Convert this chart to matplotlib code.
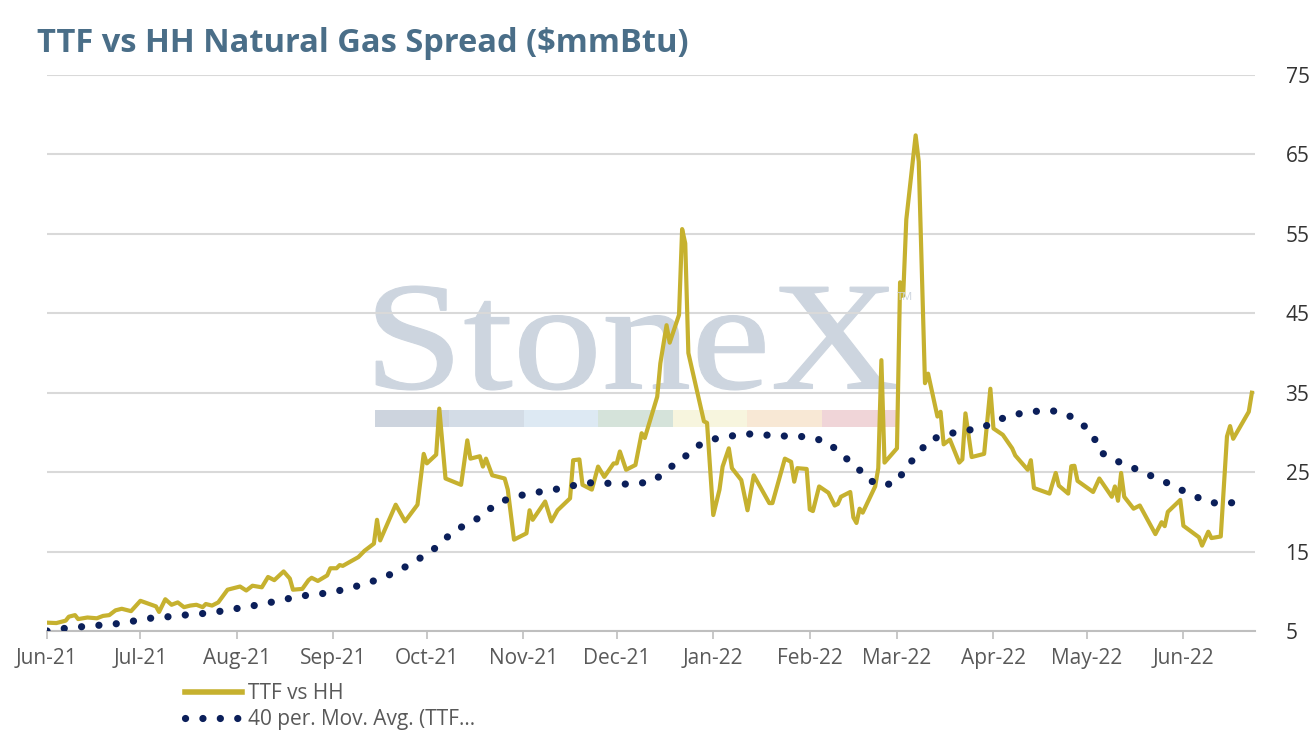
import pandas as pd
import matplotlib
matplotlib.use("Agg")
import matplotlib.pyplot as plt
import matplotlib.dates as mdates
from matplotlib.patches import Rectangle, PathPatch
from matplotlib.lines import Line2D
from matplotlib.textpath import TextPath
from matplotlib.font_manager import FontProperties
from matplotlib.transforms import Affine2D

# --- data ---
ttf_dates = [
    "2021-06-01", "2021-06-04", "2021-06-07", "2021-06-08", "2021-06-10", "2021-06-11",
    "2021-06-14", "2021-06-17", "2021-06-19", "2021-06-21", "2021-06-23", "2021-06-25",
    "2021-06-28", "2021-07-01", "2021-07-06", "2021-07-07", "2021-07-09", "2021-07-11",
    "2021-07-13", "2021-07-15", "2021-07-17", "2021-07-19", "2021-07-21", "2021-07-22",
    "2021-07-24", "2021-07-26", "2021-07-29", "2021-07-30", "2021-08-02", "2021-08-04",
    "2021-08-06", "2021-08-09", "2021-08-11", "2021-08-13", "2021-08-16", "2021-08-18",
    "2021-08-19", "2021-08-22", "2021-08-24", "2021-08-25", "2021-08-27", "2021-08-30",
    "2021-08-31", "2021-09-02", "2021-09-03", "2021-09-04", "2021-09-09", "2021-09-11",
    "2021-09-14", "2021-09-15", "2021-09-16", "2021-09-21", "2021-09-24", "2021-09-28",
    "2021-09-30", "2021-10-01", "2021-10-04", "2021-10-05", "2021-10-07", "2021-10-12",
    "2021-10-14", "2021-10-15", "2021-10-18", "2021-10-19", "2021-10-20", "2021-10-22",
    "2021-10-26", "2021-10-27", "2021-10-29", "2021-11-02", "2021-11-03", "2021-11-04",
    "2021-11-08", "2021-11-10", "2021-11-12", "2021-11-16", "2021-11-17", "2021-11-19",
    "2021-11-20", "2021-11-23", "2021-11-25", "2021-11-27", "2021-11-30", "2021-12-01",
    "2021-12-02", "2021-12-04", "2021-12-07", "2021-12-09", "2021-12-10", "2021-12-14",
    "2021-12-15", "2021-12-17", "2021-12-18", "2021-12-21", "2021-12-22", "2021-12-23",
    "2021-12-24", "2021-12-29", "2021-12-30", "2022-01-01", "2022-01-03", "2022-01-04",
    "2022-01-06", "2022-01-07", "2022-01-10", "2022-01-12", "2022-01-14", "2022-01-19",
    "2022-01-20", "2022-01-24", "2022-01-26", "2022-01-27", "2022-01-28", "2022-01-31",
    "2022-02-01", "2022-02-02", "2022-02-04", "2022-02-07", "2022-02-09", "2022-02-10",
    "2022-02-11", "2022-02-14", "2022-02-15", "2022-02-16", "2022-02-17", "2022-02-18",
    "2022-02-22", "2022-02-23", "2022-02-24", "2022-02-25", "2022-03-01", "2022-03-02",
    "2022-03-03", "2022-03-04", "2022-03-07", "2022-03-08", "2022-03-10", "2022-03-11",
    "2022-03-14", "2022-03-15", "2022-03-16", "2022-03-18", "2022-03-21", "2022-03-22",
    "2022-03-23", "2022-03-25", "2022-03-29", "2022-03-31", "2022-04-01", "2022-04-04",
    "2022-04-07", "2022-04-08", "2022-04-12", "2022-04-13", "2022-04-14", "2022-04-19",
    "2022-04-21", "2022-04-22", "2022-04-25", "2022-04-26", "2022-04-27", "2022-04-28",
    "2022-05-03", "2022-05-05", "2022-05-09", "2022-05-10", "2022-05-11", "2022-05-12",
    "2022-05-13", "2022-05-16", "2022-05-18", "2022-05-23", "2022-05-25", "2022-05-26",
    "2022-05-27", "2022-05-31", "2022-06-01", "2022-06-06", "2022-06-07", "2022-06-09",
    "2022-06-10", "2022-06-13", "2022-06-15", "2022-06-16", "2022-06-17", "2022-06-22",
    "2022-06-23",
]
ttf_values = [
    6.05, 6.0, 6.3, 6.8, 7.0, 6.5,
    6.7, 6.6, 6.9, 7.0, 7.6, 7.8,
    7.5, 8.8, 8.1, 7.4, 9.0, 8.3,
    8.6, 8.0, 8.2, 8.3, 8.0, 8.4,
    8.2, 8.6, 10.2, 10.3, 10.6, 10.1,
    10.7, 10.5, 11.8, 11.4, 12.5, 11.6,
    10.2, 10.3, 11.4, 11.7, 11.3, 12.0,
    12.9, 12.9, 13.3, 13.2, 14.3, 15.1,
    16.0, 19.0, 16.4, 20.9, 18.8, 20.9,
    27.3, 26.1, 27.2, 33.0, 24.2, 23.4,
    29.0, 26.7, 27.0, 25.7, 26.7, 24.6,
    24.2, 22.8, 16.5, 17.3, 20.2, 19.0,
    21.3, 18.8, 20.2, 21.7, 26.5, 26.6,
    23.4, 22.8, 25.7, 24.4, 26.1, 26.1,
    27.6, 25.3, 25.9, 29.9, 29.3, 34.5,
    38.7, 43.5, 41.3, 44.8, 55.6, 53.8,
    40.0, 31.4, 31.2, 19.6, 22.8, 25.7,
    28.0, 25.5, 24.0, 20.2, 24.6, 21.1,
    21.1, 26.7, 26.3, 23.8, 25.5, 25.4,
    20.3, 20.1, 23.2, 22.4, 20.8, 21.0,
    21.9, 22.5, 19.3, 18.6, 20.4, 19.9,
    23.2, 25.5, 39.1, 26.2, 28.0, 48.9,
    47.2, 56.8, 67.4, 64.1, 36.2, 37.4,
    32.0, 32.6, 28.5, 29.1, 26.2, 26.6,
    32.4, 26.9, 27.3, 35.5, 30.5, 29.7,
    28.0, 27.1, 25.3, 26.5, 23.0, 22.3,
    24.9, 23.3, 22.3, 25.75, 25.8, 23.9,
    22.5, 24.2, 21.9, 23.2, 21.4, 24.9,
    21.9, 20.4, 20.8, 17.2, 18.7, 18.2,
    20.0, 21.5, 18.25, 16.8, 15.75, 17.5,
    16.7, 16.9, 29.5, 30.8, 29.2, 32.6,
    35.0,
]

ma_dates = [
    "2021-06-01", "2021-06-06", "2021-06-11", "2021-06-17", "2021-06-23", "2021-06-28",
    "2021-07-04", "2021-07-10", "2021-07-15", "2021-07-21", "2021-07-27", "2021-08-02",
    "2021-08-08", "2021-08-13", "2021-08-19", "2021-08-25", "2021-08-31", "2021-09-05",
    "2021-09-11", "2021-09-16", "2021-09-21", "2021-09-26", "2021-10-01", "2021-10-05",
    "2021-10-09", "2021-10-14", "2021-10-19", "2021-10-23", "2021-10-29", "2021-11-03",
    "2021-11-09", "2021-11-14", "2021-11-20", "2021-11-25", "2021-12-01", "2021-12-07",
    "2021-12-13", "2021-12-17", "2021-12-22", "2021-12-26", "2021-12-31", "2022-01-05",
    "2022-01-10", "2022-01-16", "2022-01-21", "2022-01-27", "2022-02-02", "2022-02-07",
    "2022-02-11", "2022-02-16", "2022-02-19", "2022-02-24", "2022-03-01", "2022-03-04",
    "2022-03-08", "2022-03-11", "2022-03-17", "2022-03-22", "2022-03-28", "2022-04-02",
    "2022-04-07", "2022-04-13", "2022-04-19", "2022-04-24", "2022-04-29", "2022-05-03",
    "2022-05-05", "2022-05-10", "2022-05-15", "2022-05-20", "2022-05-25", "2022-05-30",
    "2022-06-04", "2022-06-09", "2022-06-15", "2022-06-20",
]
ma_values = [
    5.0, 5.3, 5.5, 5.7, 5.9, 6.2,
    6.6, 6.8, 7.0, 7.2, 7.5, 7.9,
    8.3, 8.7, 9.2, 9.6, 9.8, 10.3,
    10.9, 11.6, 12.4, 13.5, 14.7, 15.8,
    17.4, 18.5, 19.5, 21.0, 21.9, 22.3,
    22.7, 23.0, 23.6, 23.7, 23.5, 23.5,
    23.9, 25.3, 26.6, 28.1, 29.1, 29.4,
    29.8, 29.8, 29.5, 29.6, 29.3, 28.75,
    27.2, 25.8, 24.2, 23.3, 23.7, 25.7,
    27.3, 29.0, 29.75, 30.2, 30.5, 31.5,
    32.2, 32.6, 32.8, 32.4, 31.25, 29.7,
    27.6, 26.5, 25.7, 24.8, 24.0, 23.0,
    22.1, 21.2, 21.0, 21.5,
]

y_ticks = [5, 15, 25, 35, 45, 55, 65, 75]
series_labels = ["TTF vs HH", "40 per. Mov. Avg. (TTF..."]
title = "TTF vs HH Natural Gas Spread ($mmBtu)"

GOLD = "#C6B12F"
NAVY = "#0B1F5A"
TXT = "#595959"
WM = "#CDD5DF"

plt.rcParams["font.family"] = ["Open Sans", "DejaVu Sans"]

W, H = 1314, 730
fig = plt.figure(figsize=(W / 100, H / 100), dpi=100)
ax = fig.add_axes([47 / W, 99 / H, 1208 / W, 556 / H])

x_ttf = pd.to_datetime(ttf_dates)
x_ma = pd.to_datetime(ma_dates)

ax.plot(x_ttf, ttf_values, color=GOLD, lw=3, solid_joinstyle="round", zorder=3)
ax.plot(x_ma, ma_values, color=NAVY, lw=5.2, linestyle=(0, (0.01, 2.4)),
        dash_capstyle="round", zorder=4)

# StoneX watermark, stretched to the box it fills in the original
tp = TextPath((0, 0), "StoneX", size=100, prop=FontProperties(family="Liberation Serif"))
bb = tp.get_extents()
x0, x1 = 376 / W, 896 / W
ybot, ytop = 1 - 390 / H, 1 - 286 / H
wm_tr = (Affine2D().translate(-bb.x0, -bb.y0)
         .scale((x1 - x0) / bb.width, (ytop - ybot) / bb.height)
         .translate(x0, ybot) + fig.transFigure)
ax.add_patch(PathPatch(tp, transform=wm_tr, color=WM, lw=0.8, zorder=0.1, clip_on=False))
fig.text(897 / W, 1 - 298 / H, "TM", ha="left", va="center", fontsize=8, color=WM)

bar_cols = ["#CDD4DE", "#D3DCE6", "#DDE9F3", "#D5E3DA", "#F7F5DE", "#F8E8D5", "#F0D5D8"]
seg = (896 - 375) / 7
for i, c in enumerate(bar_cols):
    ax.add_patch(Rectangle(((375 - 47 + i * seg) / 1208, (631 - 427) / 556), seg / 1208, 17 / 556,
                           transform=ax.transAxes, color=c, lw=0, zorder=0.1))

ax.set_ylim(5, 75)
ax.set_yticks(y_ticks)
ax.yaxis.tick_right()
ax.set_xlim(pd.Timestamp("2021-06-01"), pd.Timestamp("2022-06-24"))
ax.xaxis.set_major_locator(mdates.MonthLocator())
ax.xaxis.set_major_formatter(mdates.DateFormatter("%b-%y"))

ax.set_axisbelow(True)
ax.grid(axis="y", color="#D9D9D9", lw=1.5)
for s in ["top", "left", "right"]:
    ax.spines[s].set_visible(False)
ax.spines["bottom"].set_color("#BFBFBF")
ax.spines["bottom"].set_linewidth(1.5)
ax.tick_params(axis="y", length=0, pad=22, labelsize=15, labelcolor="#333333")
ax.tick_params(axis="x", length=6, width=1.2, color="#BFBFBF", pad=6,
               labelsize=15, labelcolor=TXT)

fig.text(37 / W, 1 - 43 / H, title, ha="left", va="center", fontsize=23.5,
         fontweight="bold", color="#4A6E88")

handles = [
    Line2D([], [], color=GOLD, lw=4),
    Line2D([], [], color=NAVY, lw=5.2, linestyle=(0, (0.01, 2.4)), dash_capstyle="round"),
]
fig.legend(handles, series_labels, loc="upper left", bbox_to_anchor=(185 / W, 1 - 683 / H),
           frameon=False, fontsize=15, labelcolor=TXT, handlelength=2.75,
           handletextpad=0.25, labelspacing=0.25, borderpad=0, borderaxespad=0)

fig.savefig("out.png", dpi=100)
